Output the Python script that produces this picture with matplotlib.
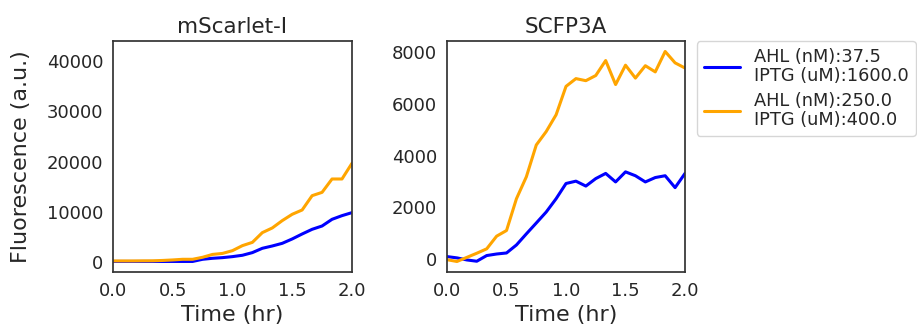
import numpy as np
import matplotlib
matplotlib.use("Agg")
import matplotlib.pyplot as plt
import seaborn as sns

# time points, every 5 min over 2 hours
time_hr = np.arange(25) / 12.0

labels = ["AHL (nM):37.5\nIPTG (uM):1600.0", "AHL (nM):250.0\nIPTG (uM):400.0"]
colors = ["blue", "orange"]

# mScarlet-I readings
mscarlet_low = [100, 100, 100, 100, 100, 100, 100, 100, 100, 530, 730, 860, 1060,
                1330, 1860, 2720, 3180, 3710, 4580, 5570, 6500, 7160, 8490, 9220, 9820]
mscarlet_high = [200, 200, 200, 220, 230, 300, 400, 530, 530, 930, 1500, 1700, 2250,
                 3250, 3900, 5840, 6770, 8230, 9490, 10350, 13200, 13860, 16520, 16520, 19640]

# SCFP3A readings
scfp_low = [90, 40, -40, -90, 130, 190, 230, 540, 970, 1390, 1815, 2330, 2920,
            3010, 2820, 3110, 3310, 2980, 3370, 3220, 2980, 3150, 3220, 2760, 3310]
scfp_high = [-30, -100, 60, 220, 390, 880, 1100, 2330, 3180, 4410, 4930, 5580, 6680,
             6980, 6900, 7100, 7680, 6750, 7500, 7000, 7480, 7240, 8030, 7590, 7390]

sns.set_style("white")
plt.rcParams["font.family"] = ["DejaVu Sans"]

fig = plt.figure(figsize=(9.17, 3.33), dpi=100)
ax1 = fig.add_axes([0.1232, 0.1832, 0.2606, 0.6937])
ax2 = fig.add_axes([0.4875, 0.1832, 0.2595, 0.6937])

for ax, title, series in [(ax1, "mScarlet-I", [mscarlet_low, mscarlet_high]),
                          (ax2, "SCFP3A", [scfp_low, scfp_high])]:
    for vals, c, lab in zip(series, colors, labels):
        ax.plot(time_hr, vals, color=c, linewidth=2.2, label=lab)
    ax.set_title(title, fontsize=15.5, color=".15")
    ax.set_xlim(0, 2)
    ax.set_xticks([0.0, 0.5, 1.0, 1.5, 2.0])
    ax.set_xlabel("Time (hr)", fontsize=16, color=".15")
    ax.tick_params(labelsize=13, colors=".15")
    for s in ax.spines.values():
        s.set_color(".2")
        s.set_linewidth(1.25)

ax1.set_ylim(-2000, 44000)
ax1.set_yticks([0, 10000, 20000, 30000, 40000])
ax2.set_yticks([0, 2000, 4000, 6000, 8000])
ax1.set_ylabel("Fluorescence (a.u.)", fontsize=16, color=".15")
ax1.yaxis.set_label_coords(-0.342, 0.5)

leg = ax2.legend(loc="upper left", bbox_to_anchor=(1.05, 1.0), borderaxespad=0,
                 fontsize=12.8, frameon=True, labelspacing=0.4)
for t in leg.get_texts():
    t.set_linespacing(1.05)

fig.savefig("out.png", dpi=100)
